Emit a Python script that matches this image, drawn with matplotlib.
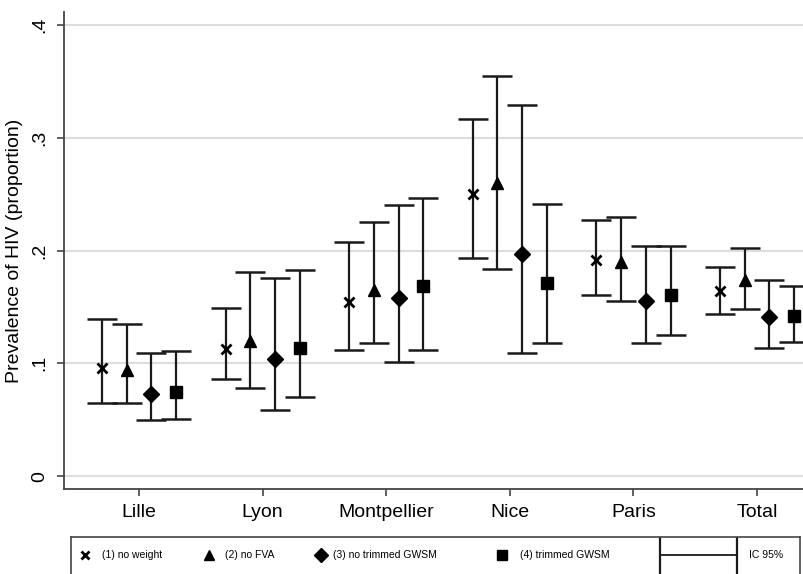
import matplotlib.pyplot as plt
from matplotlib.lines import Line2D

plt.rcParams["font.family"] = ["Liberation Sans", "DejaVu Sans"]

villes = ["Lille", "Lyon", "Montpellier", "Nice", "Paris", "Total"]
series = ["(1) no weight", "(2) no FVA", "(3) no trimmed GWSM", "(4) trimmed GWSM"]

# estimations, bornes basses et hautes (IC 95%)
no_weight = [0.096, 0.113, 0.154, 0.250, 0.192, 0.164]
no_weight_lo = [0.065, 0.086, 0.112, 0.193, 0.161, 0.144]
no_weight_hi = [0.139, 0.149, 0.208, 0.317, 0.227, 0.185]

no_fva = [0.094, 0.120, 0.165, 0.260, 0.190, 0.174]
no_fva_lo = [0.065, 0.078, 0.118, 0.184, 0.155, 0.148]
no_fva_hi = [0.135, 0.181, 0.225, 0.355, 0.230, 0.202]

no_trim = [0.073, 0.104, 0.158, 0.197, 0.155, 0.141]
no_trim_lo = [0.050, 0.059, 0.101, 0.109, 0.118, 0.114]
no_trim_hi = [0.109, 0.176, 0.240, 0.329, 0.204, 0.174]

trim = [0.075, 0.114, 0.169, 0.171, 0.161, 0.142]
trim_lo = [0.051, 0.070, 0.112, 0.118, 0.125, 0.119]
trim_hi = [0.111, 0.183, 0.247, 0.241, 0.204, 0.169]

yticks = [0, 0.1, 0.2, 0.3, 0.4]
ytick_labels = ["0", ".1", ".2", ".3", ".4"]

estimates = [no_weight, no_fva, no_trim, trim]
lows = [no_weight_lo, no_fva_lo, no_trim_lo, trim_lo]
highs = [no_weight_hi, no_fva_hi, no_trim_hi, trim_hi]
markers = ["x", "^", "D", "s"]
msizes = [7, 9, 8, 8]
offsets = [-0.3, -0.1, 0.1, 0.3]

fig = plt.figure(figsize=(8.04, 5.74), dpi=100)
ax = fig.add_axes([0.0796, 0.148, 0.9204, 0.831])

for est, lo, hi, m, ms, off in zip(estimates, lows, highs, markers, msizes, offsets):
    xs = [i + 1 + off for i in range(len(villes))]
    yerr = [[e - l for e, l in zip(est, lo)], [h - e for e, h in zip(est, hi)]]
    ax.errorbar(
        xs, est, yerr=yerr, fmt="none", ecolor="#1a1a1a",
        elinewidth=1.6, capsize=11, capthick=1.8, zorder=3,
    )
    ax.plot(xs, est, linestyle="none", marker=m, markersize=ms,
            color="black", markeredgewidth=2 if m == "x" else 1, zorder=4)

ax.set_xlim(0.393, 6.38)
ax.set_ylim(-0.0115, 0.4115)
ax.set_xticks(range(1, len(villes) + 1))
ax.set_xticklabels(villes, fontsize=14)
ax.set_yticks(yticks)
ax.set_yticklabels(ytick_labels, fontsize=14, rotation=90, va="center")
ax.set_ylabel("Prevalence of HIV (proportion)", fontsize=14, labelpad=6)

ax.grid(axis="y", color="#dddddd", linewidth=1.5, zorder=0)
ax.set_axisbelow(True)
ax.tick_params(which="major", direction="out", length=5, width=1.2,
               color="#444444", pad=6)
ax.spines["right"].set_visible(False)
ax.spines["top"].set_visible(False)
for s in ["bottom", "left"]:
    ax.spines[s].set_linewidth(1.3)
    ax.spines[s].set_color("#444444")

# légende dessinée à la main, en bas
lax = fig.add_axes([71 / 804, -0.02, 729 / 804, 37 / 574 + 0.02])
lax.set_xlim(71, 800)
lax.set_ylim(0, 1)
lax.set_xticks([])
lax.set_yticks([])
for s in lax.spines.values():
    s.set_linewidth(1.2)
    s.set_color("#444444")
ly = 0.62
mark_x = [85, 209, 321, 502]
text_x = [102, 225, 333, 520]
for m, mx, tx, lab in zip(markers, mark_x, text_x, series):
    lax.plot([mx], [ly], linestyle="none", marker=m, color="black",
             markersize=7 if m != "x" else 6, markeredgewidth=2 if m == "x" else 1)
    lax.text(tx, ly, lab, fontsize=7.5, va="center", ha="left")
lax.add_line(Line2D([660, 737], [ly, ly], color="#1a1a1a", linewidth=1.3))
lax.add_line(Line2D([660, 660], [0.05, 1.0], color="#1a1a1a", linewidth=1.6))
lax.add_line(Line2D([737, 737], [0.05, 1.0], color="#1a1a1a", linewidth=1.6))
lax.text(749, ly, "IC 95%", fontsize=7.5, va="center", ha="left")

fig.savefig("out.png", dpi=100)
